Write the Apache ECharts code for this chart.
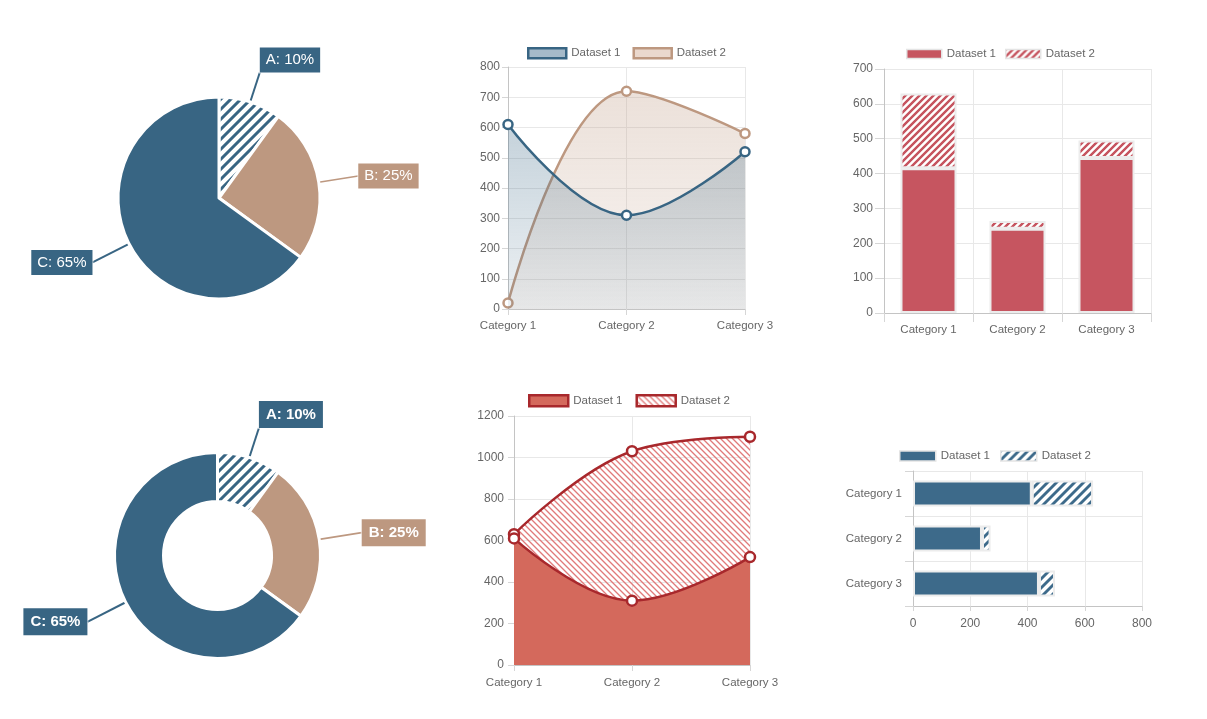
<!DOCTYPE html>
<html>
<head>
<meta charset="utf-8">
<script src="https://cdn.jsdelivr.net/npm/echarts@6/dist/echarts.min.js"></script>
<style>
html,body{margin:0;padding:0;background:#fff;width:1207px;height:719px;overflow:hidden;}
.c{position:absolute;left:0;top:0;width:1207px;height:719px;}
</style>
</head>
<body>
<div class="c" id="c1"></div>
<div class="c" id="c2"></div>
<div class="c" id="c3"></div>
<div class="c" id="c4"></div>
<div class="c" id="c5"></div>
<div class="c" id="c6"></div>
<script>
// ---------- data ----------
const categories = ['Category 1', 'Category 2', 'Category 3'];
const pieNames = ['A', 'B', 'C'];
const pieValues = [10, 25, 65];
const lineD1 = [610, 310, 520];
const lineD2 = [20, 720, 580];
const barD1 = [415, 242, 445];
const barD2 = [215, 22, 50];
const stackD1 = [610, 310, 520];
const stackD2 = [20, 720, 580];
const hbarD1 = [415, 241, 440];
const hbarD2 = [214, 30, 56];
const seriesNames = ['Dataset 1', 'Dataset 2'];

// ---------- styles ----------
const FONT = '"Liberation Sans", Arial, Helvetica, sans-serif';
const BLUE = '#386583';
const TAN = '#bd9880';
const RED = '#c65560';
const SALMON = '#d4695c';
const DARKRED = '#a8282c';
const HBLUE = '#3d6a8a';
const GRID = '#e8e8e8';
const AXIS = '#c4c4c4';
const TEXT = '#666';

function hexRgb(h) {
  return [parseInt(h.substr(1, 2), 16), parseInt(h.substr(3, 2), 16), parseInt(h.substr(5, 2), 16)];
}
// seamless diagonal stripe tile computed per pixel
function stripes(s, frac, fg, bg, dir) {
  const c = document.createElement('canvas');
  c.width = s; c.height = s;
  const g = c.getContext('2d');
  const img = g.createImageData(s, s);
  const f = hexRgb(fg), b = bg ? hexRgb(bg) : null;
  const hw = frac * s / 2;
  for (let y = 0; y < s; y++) {
    for (let x = 0; x < s; x++) {
      const u = dir === '/' ? (x + y + 1) : (x - y + 4 * s);
      const p = ((u % s) + s) % s;
      const d = Math.min(p, s - p);
      const cov = Math.max(0, Math.min(1, hw - d + 0.5));
      const i = (y * s + x) * 4;
      if (b) {
        img.data[i] = Math.round(b[0] + (f[0] - b[0]) * cov);
        img.data[i + 1] = Math.round(b[1] + (f[1] - b[1]) * cov);
        img.data[i + 2] = Math.round(b[2] + (f[2] - b[2]) * cov);
        img.data[i + 3] = 255;
      } else {
        img.data[i] = f[0]; img.data[i + 1] = f[1]; img.data[i + 2] = f[2];
        img.data[i + 3] = Math.round(255 * cov);
      }
    }
  }
  g.putImageData(img, 0, 0);
  return { image: c, repeat: 'repeat' };
}

const pieHatch = stripes(10, 0.42, BLUE, '#ffffff', '/');
const barHatch = stripes(7, 0.5, RED, '#ffffff', '/');
const areaHatch = stripes(6, 0.32, '#e07a7a', null, '\\');
const hbarHatch = stripes(9, 0.45, HBLUE, '#ffffff', '/');

// ---------- pies ----------
const pieFill = [pieHatch, TAN, BLUE];
const pieLabelBg = [BLUE, TAN, BLUE];
const pieAnchors = [
  { align: 'left', verticalAlign: 'bottom' },
  { align: 'left', verticalAlign: 'middle' },
  { align: 'right', verticalAlign: 'middle' }
];

function pieOption(center, radius, lineLens, bold, pad) {
  return {
    animation: false,
    series: [{
      type: 'pie',
      center: center,
      radius: radius,
      startAngle: 90,
      clockwise: true,
      avoidLabelOverlap: false,
      itemStyle: { borderColor: '#fff', borderWidth: 3 },
      label: {
        show: true, position: 'outside',
        formatter: '{b}: {c}%',
        color: '#fff', fontSize: 15, fontFamily: FONT,
        fontWeight: bold ? 'bold' : 'normal',
        padding: pad,
        borderColor: 'rgba(255,255,255,0.6)', borderWidth: 1
      },
      labelLine: { show: true, length2: 0, smooth: false, lineStyle: { width: 2 } },
      labelLayout: function (p) {
        const pts = p.labelLinePoints;
        if (!pts) return {};
        const end = pts[pts.length - 1];
        const a = pieAnchors[p.dataIndex];
        return { x: end[0], y: end[1], align: a.align, verticalAlign: a.verticalAlign, labelLinePoints: pts };
      },
      emphasis: { disabled: true },
      data: pieNames.map((n, i) => ({
        name: n, value: pieValues[i],
        itemStyle: { color: pieFill[i] },
        label: { backgroundColor: pieLabelBg[i] },
        labelLine: { length: lineLens[i], lineStyle: { color: pieLabelBg[i], width: i === 1 ? 1.6 : 2 } }
      }))
    }]
  };
}

// ---------- axes helpers ----------
function catAxis(boundaryGap, margin, tickLen) {
  return {
    type: 'category', data: categories, boundaryGap: boundaryGap,
    axisLine: { show: true, lineStyle: { color: AXIS, width: 1 } },
    axisTick: { show: true, length: tickLen, lineStyle: { color: '#d6d6d6' } },
    splitLine: { show: true, lineStyle: { color: GRID } },
    axisLabel: { color: TEXT, fontSize: 11.5, fontFamily: FONT, margin: margin }
  };
}
function valAxis(max, interval, margin, tickLen) {
  return {
    type: 'value', min: 0, max: max, interval: interval,
    axisLine: { show: true, lineStyle: { color: AXIS, width: 1 } },
    axisTick: { show: true, length: tickLen, lineStyle: { color: '#d6d6d6' } },
    splitLine: { show: true, lineStyle: { color: GRID } },
    axisLabel: { color: TEXT, fontSize: 12, fontFamily: FONT, margin: margin, formatter: v => String(v) }
  };
}
function legend(left, top, w, h, gap, items) {
  return {
    left: left, top: top, itemWidth: w, itemHeight: h, itemGap: gap, padding: 0,
    textStyle: { color: TEXT, fontSize: 11.5, fontFamily: FONT },
    selectedMode: false,
    data: items
  };
}
function grad(rgb, a0, a1) {
  return { type: 'linear', x: 0, y: 0, x2: 0, y2: 1, colorStops: [
    { offset: 0, color: 'rgba(' + rgb + ',' + a0 + ')' },
    { offset: 1, color: 'rgba(' + rgb + ',' + a1 + ')' }] };
}

// ---------- chart 2: smooth line areas ----------
const opt2 = {
  animation: false,
  legend: legend(527, 47, 38, 10, 12, [
    { name: seriesNames[0], icon: 'rect', itemStyle: { color: '#a6bac9', borderColor: BLUE, borderWidth: 2.5 } },
    { name: seriesNames[1], icon: 'rect', itemStyle: { color: '#ead8cd', borderColor: TAN, borderWidth: 2.5 } }
  ]),
  grid: { left: 508, top: 67, width: 237, height: 242 },
  xAxis: catAxis(false, 11, 6),
  yAxis: valAxis(800, 100, 8, 6),
  series: [
    { name: seriesNames[0], type: 'line', data: lineD1, smooth: 0.4, z: 3,
      symbol: 'circle', symbolSize: 9, showSymbol: true,
      lineStyle: { color: BLUE, width: 2.5 },
      itemStyle: { color: '#fff', borderColor: BLUE, borderWidth: 2.5 },
      areaStyle: { color: grad('56,101,131', 0.42, 0.13) } },
    { name: seriesNames[1], type: 'line', data: lineD2, smooth: 0.4, z: 2,
      symbol: 'circle', symbolSize: 9, showSymbol: true,
      lineStyle: { color: TAN, width: 2.5 },
      itemStyle: { color: '#fff', borderColor: TAN, borderWidth: 2.5 },
      areaStyle: { color: grad('189,152,128', 0.42, 0.15) } }
  ]
};

// ---------- chart 3: stacked bars ----------
const opt3 = {
  animation: false,
  legend: legend(906, 48, 35, 9, 9, [
    { name: seriesNames[0], icon: 'rect', itemStyle: { color: RED, borderColor: '#e4e4e4', borderWidth: 1.5 } },
    { name: seriesNames[1], icon: 'rect', itemStyle: { color: barHatch, borderColor: '#e4e4e4', borderWidth: 1.5 } }
  ]),
  grid: { left: 884, top: 69, width: 267, height: 244 },
  xAxis: catAxis(true, 11, 9),
  yAxis: valAxis(700, 100, 11, 9),
  series: [
    { name: seriesNames[0], type: 'bar', stack: 's', data: barD1, barWidth: 56,
      itemStyle: { color: RED, borderColor: '#ececec', borderWidth: 2 } },
    { name: seriesNames[1], type: 'bar', stack: 's', data: barD2, barWidth: 56,
      itemStyle: { color: barHatch, borderColor: '#ececec', borderWidth: 2 } }
  ]
};

// ---------- chart 5: stacked smooth areas ----------
const opt5 = {
  animation: false,
  legend: legend(528, 394, 39, 11, 13, [
    { name: seriesNames[0], icon: 'rect', itemStyle: { color: SALMON, borderColor: DARKRED, borderWidth: 2.5 } },
    { name: seriesNames[1], icon: 'rect', itemStyle: { color: areaHatch, borderColor: DARKRED, borderWidth: 2.5 } }
  ]),
  grid: { left: 514, top: 416, width: 236, height: 249 },
  xAxis: catAxis(false, 12, 6),
  yAxis: valAxis(1200, 200, 10, 6),
  series: [
    { name: seriesNames[0], type: 'line', stack: 't', data: stackD1, smooth: 0.4, z: 3,
      symbol: 'circle', symbolSize: 10,
      lineStyle: { color: DARKRED, width: 2.5 },
      itemStyle: { color: '#fff', borderColor: DARKRED, borderWidth: 2.5 },
      areaStyle: { color: SALMON, opacity: 1 } },
    { name: seriesNames[1], type: 'line', stack: 't', data: stackD2, smooth: 0.4, z: 2,
      symbol: 'circle', symbolSize: 10,
      lineStyle: { color: DARKRED, width: 2.5 },
      itemStyle: { color: '#fff', borderColor: DARKRED, borderWidth: 2.5 },
      areaStyle: { color: areaHatch, opacity: 1 } }
  ]
};

// ---------- chart 6: horizontal stacked bars ----------
const y6 = catAxis(true, 11, 8);
y6.inverse = true;
const x6 = valAxis(800, 200, 12, 5);
const opt6 = {
  animation: false,
  legend: legend(899, 450, 36, 10, 10, [
    { name: seriesNames[0], icon: 'rect', itemStyle: { color: HBLUE, borderColor: '#e4e4e4', borderWidth: 1.5 } },
    { name: seriesNames[1], icon: 'rect', itemStyle: { color: hbarHatch, borderColor: '#e4e4e4', borderWidth: 1.5 } }
  ]),
  grid: { left: 913, top: 471, width: 229, height: 135 },
  xAxis: x6,
  yAxis: y6,
  series: [
    { name: seriesNames[0], type: 'bar', stack: 's', data: hbarD1, barWidth: 26,
      itemStyle: { color: HBLUE, borderColor: '#ececec', borderWidth: 2 } },
    { name: seriesNames[1], type: 'bar', stack: 's', data: hbarD2, barWidth: 26,
      itemStyle: { color: hbarHatch, borderColor: '#ececec', borderWidth: 2 } }
  ]
};

const opt1 = pieOption([219, 198], 101, [31, 40, 41], false, [5, 6]);
const opt4 = pieOption([217.5, 555.5], [54, 103], [31, 43, 43], true, [6, 7]);

[opt1, opt2, opt3, opt4, opt5, opt6].forEach((o, i) => {
  const ch = echarts.init(document.getElementById('c' + (i + 1)), null, { renderer: 'canvas', width: 1207, height: 719 });
  ch.setOption(o);
});
</script>
</body>
</html>
